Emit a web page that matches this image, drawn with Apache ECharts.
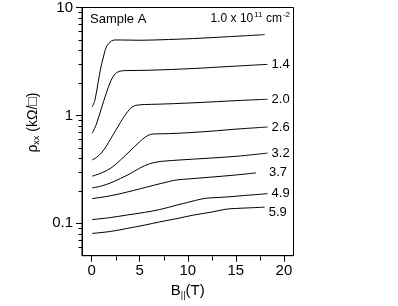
<!DOCTYPE html>
<html>
<head>
<meta charset="utf-8">
<script src="https://cdn.jsdelivr.net/npm/echarts@6/dist/echarts.min.js"></script>
<style>
html,body{margin:0;padding:0;background:#fff;}
#c{width:398px;height:306px;}
</style>
</head>
<body>
<div id="c"></div>
<script>
// Density labels (10^11 cm^-2)
const densityLabels = ['1.0', '1.4', '2.0', '2.6', '3.2', '3.7', '4.9', '5.9'];

// B|| (T) and rho_xx (kOhm/sq) for each curve
const b10 = [0.06, 0.34, 0.69, 0.93, 1.2, 1.56, 2.08, 2.5, 3, 5, 8, 10.5, 14, 18];
const r10 = [1.2, 1.38, 2.05, 2.7, 3.4, 4.35, 4.9, 5.0, 5.0, 4.97, 5.05, 5.15, 5.35, 5.6];

const b14 = [0.05, 0.5, 1.0, 1.5, 2.0, 2.5, 3.0, 3.5, 6, 10.6, 14, 18.3];
const r14 = [0.68, 0.83, 1.15, 1.58, 2.09, 2.45, 2.57, 2.6, 2.62, 2.72, 2.83, 2.97];

const b20 = [0.05, 0.5, 1.0, 1.5, 2.0, 2.5, 3.0, 3.5, 4.0, 4.4, 4.8, 5.5, 7, 10, 13, 15, 18.3];
const r20 = [0.386, 0.407, 0.447, 0.513, 0.61, 0.724, 0.861, 1.01, 1.15, 1.22, 1.245, 1.26, 1.27, 1.3, 1.34, 1.37, 1.41];

const b26 = [0.05, 1, 2, 3, 4, 5, 5.6, 6.1, 6.6, 8, 10, 13, 15, 18.3];
const r26 = [0.273, 0.292, 0.324, 0.385, 0.468, 0.569, 0.631, 0.664, 0.673, 0.677, 0.69, 0.72, 0.745, 0.78];

const b32 = [0.05, 1, 2, 3, 4, 5, 6, 7, 7.6, 9, 12, 15, 18.3];
const r32 = [0.213, 0.221, 0.237, 0.26, 0.288, 0.324, 0.355, 0.372, 0.377, 0.385, 0.4, 0.417, 0.447];

const b37 = [0.05, 2, 3.64, 5, 6.4, 8, 8.84, 10, 12.3, 15, 17.1];
const r37 = [0.169, 0.18, 0.194, 0.208, 0.224, 0.243, 0.252, 0.257, 0.267, 0.28, 0.293];

const b49 = [0.05, 2, 3.64, 5.5, 7.1, 8.84, 10, 11.6, 12.5, 14, 16, 18.3];
const r49 = [0.108, 0.113, 0.119, 0.126, 0.134, 0.147, 0.156, 0.169, 0.172, 0.175, 0.181, 0.188];

const b59 = [0.05, 2, 3.64, 5.5, 7.1, 9, 10.6, 12.5, 14, 15, 16.5, 18];
const r59 = [0.0804, 0.084, 0.0893, 0.096, 0.103, 0.111, 0.119, 0.127, 0.135, 0.137, 0.139, 0.141];

// Axis ticks
const xMajor = [0, 5, 10, 15, 20];
const xMinor = [2.5, 7.5, 12.5, 17.5];
const yMajor = [0.1, 1, 10];
const yMinor = [0.06, 0.07, 0.08, 0.09, 0.2, 0.3, 0.4, 0.5, 0.6, 0.7, 0.8, 0.9, 2, 3, 4, 5, 6, 7, 8, 9];

const X_MIN = -1, X_MAX = 21, Y_MIN = 0.05, Y_MAX = 10;

const curvesB = [b10, b14, b20, b26, b32, b37, b49, b59];
const curvesR = [r10, r14, r20, r26, r32, r37, r49, r59];

const FONT = 'Liberation Sans, Arial, sans-serif';
const chart = echarts.init(document.getElementById('c'));

const labelTweaks = {
  '3.7': { distance: 13, offset: [0, 0] },
  '5.9': { distance: 4, offset: [0, 5] }
};

const series = curvesB.map((bs, i) => {
  const name = densityLabels[i];
  const tw = labelTweaks[name] || { distance: 4, offset: [0, 0] };
  return {
    name: name,
    type: 'line',
    data: bs.map((b, j) => [b, curvesR[i][j]]),
    showSymbol: false,
    smooth: 0.35,
    lineStyle: { color: '#000', width: 1 },
    itemStyle: { color: '#000' },
    silent: true,
    animation: false,
    endLabel: {
      show: i > 0,
      formatter: name,
      color: '#000',
      fontFamily: FONT,
      fontSize: 13,
      distance: tw.distance,
      offset: tw.offset
    }
  };
});

const axisLineStyle = { show: true, onZero: false, lineStyle: { color: '#000', width: 1 } };

const headerGraphics = [
  {
    type: 'text', left: 90, top: 13,
    style: { text: 'Sample A', font: '13px ' + FONT, fill: '#000' }
  },
  {
    type: 'text', right: 108, top: 11,
    style: {
      text: '{n|1.0 x 10}{p|11}{n| cm}{p|-2}',
      rich: {
        n: { fontFamily: FONT, fontSize: 12, color: '#000', verticalAlign: 'bottom' },
        p: { fontFamily: FONT, fontSize: 8, color: '#000', verticalAlign: 'top', padding: [0, 0, 6, 1] }
      }
    }
  }
];

chart.setOption({
  animation: false,
  backgroundColor: '#fff',
  grid: { left: 82, right: 104.5, top: 6, bottom: 50.3, show: true, borderColor: '#000', borderWidth: 1, backgroundColor: 'transparent' },
  xAxis: {
    type: 'value', min: X_MIN, max: X_MAX,
    axisLine: axisLineStyle,
    axisTick: { show: true, customValues: xMajor, length: 6, lineStyle: { color: '#000' } },
    axisLabel: { customValues: xMajor, color: '#000', fontFamily: FONT, fontSize: 15, margin: 8 },
    splitLine: { show: false },
    name: '{b|B}{s|||}{b|(T)}',
    nameLocation: 'middle',
    nameGap: 24,
    nameTextStyle: {
      rich: {
        b: { fontFamily: FONT, fontSize: 15, color: '#000' },
        s: { fontFamily: FONT, fontSize: 9, color: '#000', verticalAlign: 'bottom', padding: [8, 0, 0, 0] }
      }
    }
  },
  yAxis: {
    type: 'log', min: Y_MIN, max: Y_MAX, logBase: 10,
    axisLine: axisLineStyle,
    axisTick: { show: true, customValues: yMajor, length: 6, lineStyle: { color: '#000' } },
    axisLabel: {
      customValues: yMajor, color: '#000', fontFamily: FONT, fontSize: 15, margin: 9,
      formatter: v => (Math.abs(v - 0.1) < 1e-9 ? '0.1' : String(Math.round(v)))
    },
    splitLine: { show: false },
    name: '{r|ρ}{s|xx}{r| (kΩ/□)}',
    nameLocation: 'middle',
    nameGap: 31,
    nameRotate: 90,
    nameTextStyle: {
      padding: [0, 0, 0, 18],
      rich: {
        r: { fontFamily: FONT, fontSize: 14, color: '#000' },
        s: { fontFamily: FONT, fontSize: 9, color: '#000', verticalAlign: 'bottom', padding: [7, 0, 0, 0] }
      }
    }
  },
  graphic: headerGraphics,
  series: series
});

// minor ticks, positioned through the chart's own axis scales
const tickEls = [];
yMinor.forEach(v => {
  const p = chart.convertToPixel({ gridIndex: 0 }, [X_MIN, v]);
  const x = Math.round(p[0]) + 0.5, y = Math.round(p[1]) + 0.5;
  tickEls.push({ type: 'line', silent: true, z: 10,
    shape: { x1: x - 4, y1: y, x2: x, y2: y }, style: { stroke: '#000', lineWidth: 1 } });
});
xMinor.forEach(v => {
  const p = chart.convertToPixel({ gridIndex: 0 }, [v, Y_MIN]);
  const x = Math.round(p[0]) + 0.5, y = Math.round(p[1]) + 0.5;
  tickEls.push({ type: 'line', silent: true, z: 10,
    shape: { x1: x, y1: y, x2: x, y2: y + 4 }, style: { stroke: '#000', lineWidth: 1 } });
});
chart.setOption({ graphic: headerGraphics.concat(tickEls) }, { replaceMerge: ['graphic'] });
</script>
</body>
</html>
